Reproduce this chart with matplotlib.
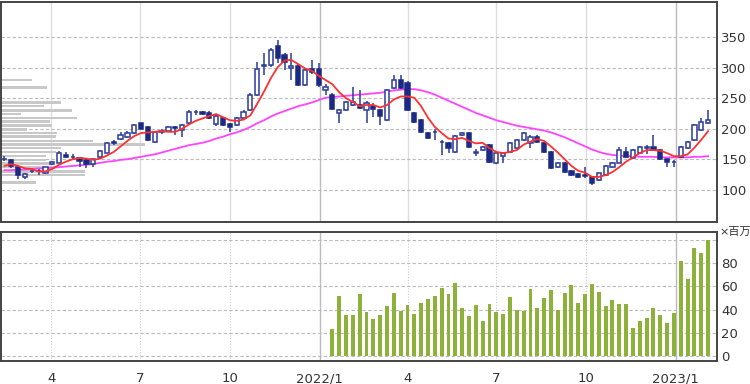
import numpy as np
import pandas as pd
import matplotlib
matplotlib.use("Agg")
import matplotlib.pyplot as plt
import matplotlib.transforms as mtransforms
from matplotlib.patches import Rectangle

# weekly candles (first candle = week of 2021-02-12)
start_date = "2021-02-12"
opens = [150, 149, 137, 121, 130, 130, 128, 142, 144, 157,
         153, 152, 149, 142, 153, 161, 179, 183, 187, 193,
         209, 203, 178, 195, 196, 203, 198, 210, 227, 228,
         226, 208, 218, 208, 206, 218, 231, 256, 303, 305,
         335, 321, 300, 303, 272, 298, 298, 264, 256, 226,
         231, 239, 239, 231, 238, 231, 215, 267, 280, 275,
         226, 214, 193, 194, 178, 177, 162, 190, 193, 161,
         165, 173, 144, 155, 162, 168, 182, 177, 186, 176,
         162, 137, 144, 130, 125, 124, 121, 116, 124, 137,
         144, 162, 152, 160, 168, 170, 165, 150, 145, 154,
         168, 182, 198, 210]
highs = [155, 150, 139, 127, 133, 134, 138, 147, 163, 162,
         158, 153, 151, 151, 165, 178, 181, 195, 196, 208,
         210, 205, 197, 200, 205, 204, 208, 230, 230, 229,
         229, 223, 219, 210, 219, 230, 258, 310, 325, 333,
         346, 325, 324, 306, 298, 313, 308, 273, 258, 233,
         246, 269, 264, 245, 243, 233, 266, 288, 288, 278,
         228, 216, 195, 200, 181, 178, 190, 195, 195, 166,
         172, 175, 162, 161, 178, 184, 195, 190, 190, 178,
         163, 145, 146, 132, 127, 137, 122, 128, 140, 145,
         170, 170, 167, 172, 174, 190, 167, 151, 148, 172,
         180, 208, 218, 231]
lows = [147, 136, 118, 117, 128, 124, 126, 140, 143, 152,
        151, 138, 136, 137, 152, 160, 174, 181, 185, 192,
        199, 180, 176, 192, 194, 190, 186, 208, 222, 222,
        216, 205, 204, 195, 204, 216, 229, 254, 289, 302,
        308, 297, 280, 270, 270, 290, 268, 256, 231, 210,
        229, 237, 232, 210, 220, 206, 213, 265, 265, 229,
        209, 193, 184, 182, 157, 160, 160, 188, 168, 156,
        163, 144, 142, 144, 160, 166, 180, 168, 176, 160,
        134, 135, 127, 122, 120, 120, 108, 115, 122, 136,
        143, 152, 150, 158, 158, 163, 148, 137, 137, 152,
        166, 180, 196, 208]
closes = [151, 139, 124, 126, 131, 131, 137, 146, 160, 154,
          154, 147, 142, 150, 164, 177, 176, 190, 193, 206,
          200, 182, 195, 196, 203, 201, 206, 228, 228, 224,
          218, 221, 206, 203, 218, 228, 256, 298, 305, 330,
          316, 310, 303, 272, 296, 293, 272, 269, 233, 231,
          244, 244, 234, 243, 232, 221, 264, 280, 267, 231,
          211, 195, 185, 195, 179, 168, 188, 193, 170, 162,
          170, 146, 160, 160, 176, 182, 193, 186, 178, 162,
          136, 144, 129, 124, 121, 122, 111, 127, 139, 144,
          165, 154, 165, 170, 170, 165, 150, 146, 146, 170,
          178, 206, 211, 215]

# moving averages (red = short, magenta = long)
ma_short = [139, 142, 139, 135, 134, 130, 130, 134, 141, 146,
            150, 152, 151, 149, 151, 156, 162, 171, 180, 188,
            193, 194, 195, 196, 195, 195, 200, 207, 213, 217,
            221, 224, 219, 214, 213, 215, 222, 241, 261, 283,
            301, 312, 313, 306, 299, 295, 287, 280, 273, 260,
            250, 244, 237, 239, 239, 235, 239, 248, 253, 253,
            251, 237, 218, 203, 193, 184, 183, 185, 180, 176,
            177, 168, 162, 160, 162, 165, 174, 179, 183, 180,
            171, 161, 150, 139, 131, 128, 121, 121, 124, 129,
            137, 146, 153, 160, 165, 165, 164, 160, 155, 155,
            158, 169, 182, 196]
ma_long = [132, 132, 133, 133, 134, 135, 135, 136, 137, 138,
           139, 140, 141, 142, 144, 146, 147, 149, 150, 152,
           154, 156, 158, 161, 164, 167, 170, 173, 175, 177,
           180, 184, 187, 191, 194, 198, 203, 209, 214, 220,
           225, 229, 233, 237, 240, 243, 247, 251, 252, 253,
           254, 255, 256, 257, 258, 259, 261, 263, 264, 265,
           265, 263, 260, 256, 251, 246, 241, 236, 231, 226,
           222, 218, 214, 211, 208, 205, 203, 201, 199, 197,
           194, 190, 186, 181, 176, 171, 166, 162, 159, 157,
           156, 155, 155, 154, 154, 154, 153, 153, 153, 153,
           153, 154, 154, 155]

# volume (millions), only available from 2022/1 onward
volume = [np.nan] * 48 + [
    23, 52, 35, 35, 53, 38, 32, 35, 43, 54,
    39, 44, 36, 46, 49, 52, 59, 53, 63, 41,
    34, 44, 30, 45, 38, 36, 51, 40, 39, 58,
    41, 50, 57, 40, 54, 61, 46, 53, 62, 55,
    43, 48, 45, 45, 24, 30, 33, 41, 35, 28,
    37, 82, 66, 93, 89, 100]

# price-by-volume profile (price level, relative size)
profile_price = [280, 274, 268, 262, 255, 249, 243, 237, 230, 224,
                 218, 212, 205, 199, 193, 187, 180, 174, 168, 162,
                 155, 149, 143, 137, 130, 124, 118, 112]
profile_size = [31, 0, 46, 0, 0, 0, 60, 43, 71, 20,
                76, 49, 51, 26, 56, 55, 92, 144, 60, 55,
                45, 45, 50, 55, 84, 84, 0, 35]

tick_dates = ["2021-04-01", "2021-07-01", "2021-10-01", "2022-01-01",
              "2022-04-01", "2022-07-01", "2022-10-01", "2023-01-01"]
tick_labels = ["4", "7", "10", "2022/1", "4", "7", "10", "2023/1"]

up_edge = "#2b3c9a"
down_face = "#1b2a85"
text_col = "#333333"

fig = plt.figure(figsize=(7.5, 3.84), dpi=100)
ax = fig.add_axes([1 / 750, 1 - 222 / 384, 716 / 750, 220 / 384])
axv = fig.add_axes([1 / 750, 1 - 361 / 384, 716 / 750, 129 / 384])

n = len(closes)
x = np.arange(n)
tick_pos = [(pd.Timestamp(d) - pd.Timestamp(start_date)).days / 7 for d in tick_dates]
xlim = (-0.5, 104.3)

# gridlines
for a in (ax, axv):
    for p, lab in zip(tick_pos, tick_labels):
        if "/" in lab:
            a.axvline(p, color="#bbbbbb", lw=1.0, zorder=0)
        elif a is ax:
            a.axvline(p, color="#dddddd", lw=1.0, zorder=0)
        else:
            a.axvline(p, color="#cccccc", lw=0.8, ls=(0, (1, 1.5)), zorder=0)

for v in range(100, 351, 50):
    ax.axhline(v, color="#bbbbbb", lw=0.8, ls=(0, (3, 2)), zorder=0)
for v in range(0, 101, 20):
    axv.axhline(v, color="#bbbbbb", lw=0.8, ls=(0, (3, 2)), zorder=0)

# price-by-volume profile
blend = mtransforms.blended_transform_factory(ax.transAxes, ax.transData)
for p, s in zip(profile_price, profile_size):
    if s > 0:
        ax.add_patch(Rectangle((0, p - 2.0), s / 716, 4.0, transform=blend,
                               facecolor="#c8c8c8", edgecolor="none", zorder=1))

# moving averages
ax.plot(x, ma_long, color="#ff44ff", lw=1.3, zorder=2)
ax.plot(x, ma_short, color="#ff3030", lw=1.3, zorder=4)

# candles
o = np.array(opens, float)
h = np.array(highs, float)
l = np.array(lows, float)
c = np.array(closes, float)
up = c >= o
ax.vlines(x, l, h, color=up_edge, lw=1.1, zorder=3)
body_bot = np.minimum(o, c)
body_h = np.maximum(np.abs(c - o), 1.0)
ax.bar(x[up], body_h[up], bottom=body_bot[up], width=0.62,
       facecolor="white", edgecolor=up_edge, linewidth=1.1, zorder=3.5)
ax.bar(x[~up], body_h[~up], bottom=body_bot[~up], width=0.62,
       facecolor=down_face, edgecolor=down_face, linewidth=1.1, zorder=3.5)

ax.set_xlim(*xlim)
ax.set_ylim(47, 408)
ax.set_yticks(range(100, 351, 50))
ax.yaxis.tick_right()
ax.set_xticks([])

# volume bars
axv.bar(x, volume, width=0.58, color="#8db13a", zorder=2)
axv.set_xlim(*xlim)
axv.set_ylim(-4.5, 107)
axv.set_yticks(range(0, 81, 20))
axv.yaxis.tick_right()
axv.set_xticks(tick_pos)
axv.set_xticklabels(tick_labels)

for a in (ax, axv):
    a.tick_params(length=0, labelsize=9.5, colors=text_col, pad=3)
    for sp in a.spines.values():
        sp.set_color("#444444")
        sp.set_linewidth(1.4)
axv.tick_params(axis="x", pad=8)

fig.text(719 / 750, 1 - 232 / 384, "×百万", ha="left", va="center",
         fontsize=8, color=text_col, family=["DejaVu Sans", "Noto Sans CJK JP"])

fig.savefig("out.png", dpi=100)
